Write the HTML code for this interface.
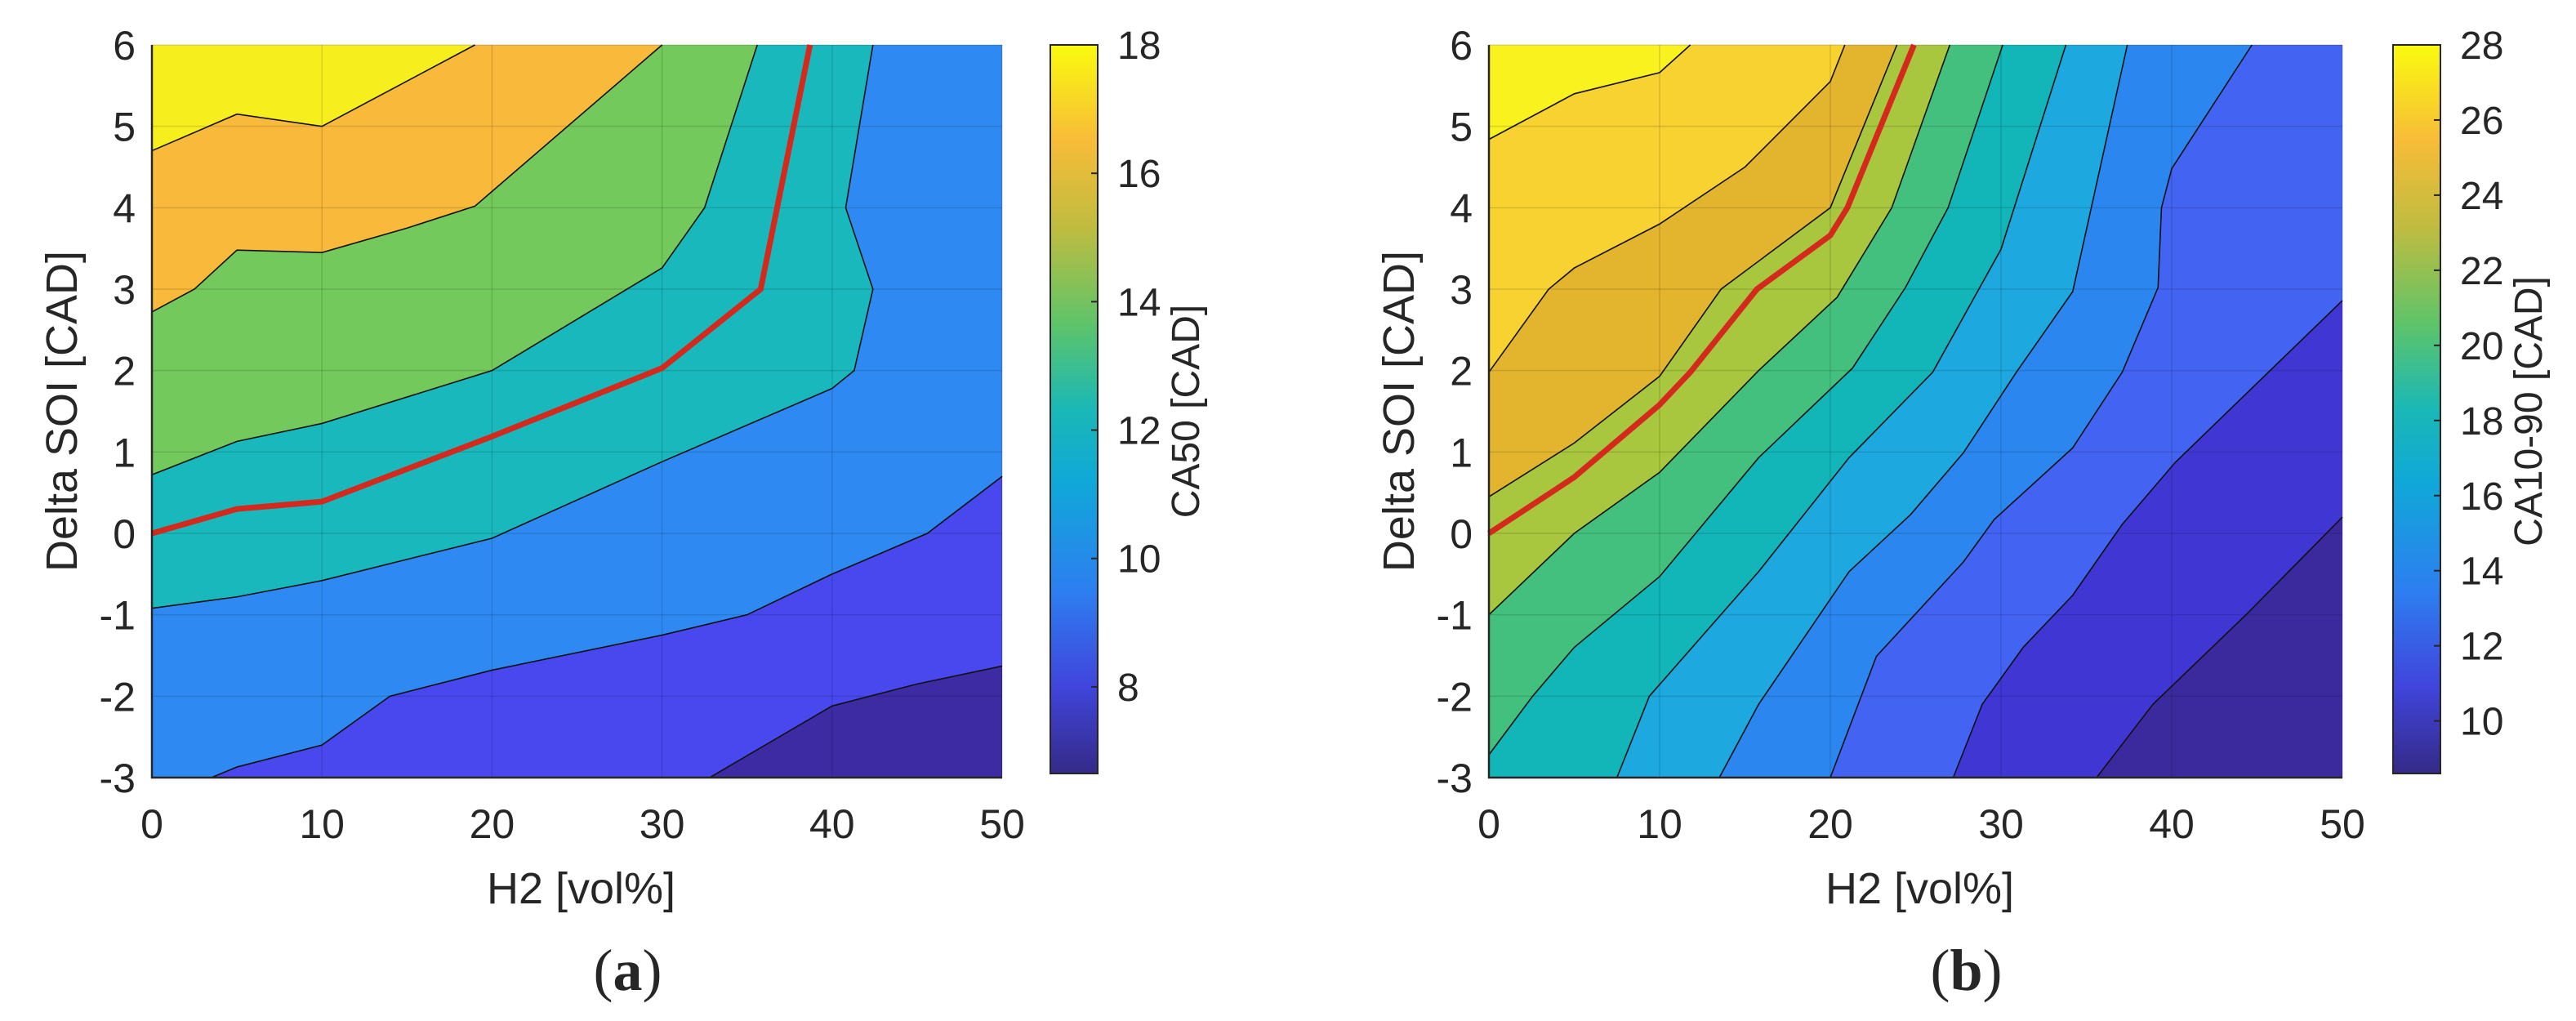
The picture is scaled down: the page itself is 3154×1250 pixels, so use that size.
<!DOCTYPE html>
<html><head><meta charset="utf-8">
<style>
html,body{margin:0;padding:0;background:#fff;}
svg{display:block;}
text{font-family:"Liberation Sans",Arial,sans-serif;fill:#262626;}
</style></head>
<body>
<svg id="fig" width="3154" height="1250" viewBox="0 0 3154 1250" xmlns="http://www.w3.org/2000/svg">
<defs>
<linearGradient id="parula" x1="0" y1="1" x2="0" y2="0">
<stop offset="0" stop-color="#352A87"/><stop offset="0.12" stop-color="#4045dc"/>
<stop offset="0.25" stop-color="#2d7ef0"/><stop offset="0.4" stop-color="#10a8d8"/>
<stop offset="0.5" stop-color="#1ab8b6"/><stop offset="0.62" stop-color="#60c468"/>
<stop offset="0.75" stop-color="#c0bc40"/><stop offset="0.87" stop-color="#f8bc38"/>
<stop offset="1" stop-color="#F9FB0E"/>
</linearGradient>
</defs>
</svg>
<script>
// ---------- shared axis data ----------
const xTicks = [0, 10, 20, 30, 40, 50];
const yTicks = [-3, -2, -1, 0, 1, 2, 3, 4, 5, 6];

// ---------- panel (a): CA50 ----------
const aColors = ["#3c2ba3", "#4848ee", "#2e8af2", "#19b8bd", "#73c95b", "#f9b93b", "#f7ee1e"];
const aC6 = [[32.8,-3],[40,-2.12],[45,-1.85],[50,-1.63]];
const aC5 = [[3.5,-3],[5,-2.87],[10,-2.6],[14,-2.0],[20,-1.68],[30,-1.25],[35,-1.0],[40,-0.5],[45.6,0.0],[50,0.7]];
const aC4 = [[0,-0.92],[5,-0.78],[10,-0.58],[20,-0.06],[30,0.88],[40,1.78],[41.3,2.0],[42.4,3.0],[40.8,4.0],[42.4,6]];
const aC3 = [[0,0.72],[5,1.13],[10,1.35],[20,2.0],[30,3.26],[32.5,4.0],[35.6,6]];
const aC2 = [[0,2.72],[2.5,3.0],[5,3.48],[10,3.45],[15,3.75],[19,4.02],[20,4.2],[30,6]];
const aC1 = [[0,4.7],[5,5.15],[10,5.0],[19,6]];
const aRed = [[0,0],[5,0.3],[10,0.39],[20,1.19],[30,2.03],[35.8,3.0],[38.7,6]];
const aCbarTicks = [8, 10, 12, 14, 16, 18];
const aCbarRange = [6.65, 18];

// ---------- panel (b): CA10-90 ----------
const bColors = ["#3b2a9e", "#4036d4", "#4363f3", "#2b87ef", "#1da8e0", "#12b5b8", "#43c07e", "#a8c63e", "#e3b42e", "#f8d231", "#f9f21f"];
const bC10 = [[35.6,-3],[38.9,-2.1],[44.4,-0.99],[50,0.2]];
const bC9 = [[27.2,-3],[28.9,-2.1],[31.3,-1.4],[34.2,-0.76],[37.1,0.11],[40.2,0.87],[50,2.86]];
const bC8 = [[20,-3],[22.7,-1.51],[27.8,-0.35],[29.6,0.17],[34.2,1.05],[37.1,1.98],[39.2,3.02],[39.4,4.0],[40,4.48],[44.7,6]];
const bC7 = [[13.5,-3],[15.8,-2.1],[21.1,-0.47],[24.7,0.23],[27.8,0.99],[30.9,1.98],[34.2,2.97],[37.4,6]];
const bC6 = [[7.5,-3],[9.4,-2.0],[15.8,-0.47],[21.1,0.93],[26,1.98],[30,3.49],[33.8,6]];
const bC5 = [[0,-2.72],[2.56,-2.0],[5,-1.4],[10,-0.53],[15.8,0.93],[21.3,2.03],[24.4,3.02],[26.9,4.0],[30.1,6]];
const bC4 = [[0,-1.0],[5,0.0],[10,0.75],[15.8,2.0],[20.4,2.9],[23.6,4.0],[27,6]];
const bC3 = [[0,0.45],[5,1.11],[10,1.93],[13.6,3.0],[20,4.0],[23.9,6]];
const bC2 = [[0,1.98],[3.5,3.0],[5,3.26],[10,3.8],[15,4.5],[20,5.55],[20.85,6]];
const bC1 = [[0,4.84],[5,5.4],[10,5.66],[11.8,6]];
const bRed = [[0,0],[5,0.69],[10,1.58],[11.8,1.98],[15.7,3.0],[20,3.66],[21,4.0],[24.9,6]];
const bCbarTicks = [10, 12, 14, 16, 18, 20, 22, 24, 26, 28];
const bCbarRange = [8.6, 28];

const NS = "http://www.w3.org/2000/svg";
const svg = document.getElementById("fig");
function mk(tag, attrs, parent) {
  const e = document.createElementNS(NS, tag);
  for (const k in attrs) e.setAttribute(k, attrs[k]);
  (parent || svg).appendChild(e);
  return e;
}

function panel(P) {
  const g = mk("g", {});
  
  
  const X = v => P.left + (v - 0) / 50 * (P.right - P.left);
  const Y = v => P.bottom - (v + 3) / 9 * (P.bottom - P.top);
  const base = mk("rect", {x: P.left, y: P.top, width: P.right - P.left, height: P.bottom - P.top, fill: P.colors[0]}, g);
  
  
  P.contours.forEach((c, i) => {
    const pts = c.slice();
    const last = pts[pts.length - 1], first = pts[0];
    if (last[0] >= 50 && last[1] < 6) pts.push([50, 6]);
    pts.push([0, 6]);
    if (first[1] <= -3 && first[0] > 0) pts.push([0, -3]);
    const poly = mk("polygon", {points: pts.map(p => X(p[0]) + "," + Y(p[1])).join(" "), fill: P.colors[i + 1]}, g);
    
    
  });
  xTicks.forEach(t => {
    const l = mk("line", {x1: X(t), x2: X(t), y1: P.top, y2: P.bottom, stroke: "#000", "stroke-opacity": 0.13, "stroke-width": 1.5}, g);
    
    
  });
  yTicks.forEach(t => {
    const l = mk("line", {x1: P.left, x2: P.right, y1: Y(t), y2: Y(t), stroke: "#000", "stroke-opacity": 0.13, "stroke-width": 1.5}, g);
    
    
  });
  P.contours.forEach(c => {
    const pl = mk("polyline", {points: c.map(p => X(p[0]) + "," + Y(p[1])).join(" "), fill: "none", stroke: "#111", "stroke-width": 1.6}, g);
    
    
  });
  const red = mk("polyline", {points: P.red.map(p => X(p[0]) + "," + Y(p[1])).join(" "), fill: "none", stroke: "#d42a1e", "stroke-width": 7, "stroke-linejoin": "round"}, g);
  
  
  const box = mk("path", {d: `M${P.left},${P.top} V${P.bottom} H${P.right}`, fill: "none", stroke: "#262626", "stroke-width": 2.5}, g);
  
  
  xTicks.forEach(t => {
    const tx = mk("text", {x: X(t), y: P.bottom + 74, "font-size": 50, "text-anchor": "middle"}, g);
    tx.textContent = t;
    
    
  });
  yTicks.forEach(t => {
    const tx = mk("text", {x: P.left - 20, y: Y(t) + 18, "font-size": 50, "text-anchor": "end"}, g);
    tx.textContent = t;
    
    
  });
  const xt = mk("text", {x: (P.left + P.right) / 2 + 5, y: P.bottom + 154, "font-size": 54, "text-anchor": "middle"}, g);
  xt.textContent = "H2 [vol%]";
  
  
  const ycx = P.left - 92, ycy = (P.top + P.bottom) / 2;
  const yt = mk("text", {x: ycx, y: ycy, "font-size": 54, "text-anchor": "middle", transform: `rotate(-90 ${ycx} ${ycy})`}, g);
  yt.textContent = "Delta SOI [CAD]";
  
  
  const cb = mk("rect", {x: P.cbL, y: P.top, width: 58, height: P.bottom - 5 - P.top, fill: "url(#parula)", stroke: "#262626", "stroke-width": 2}, g);
  
  
  const CY = v => (P.bottom - 5) - (v - P.cr[0]) / (P.cr[1] - P.cr[0]) * (P.bottom - 5 - P.top);
  P.cticks.forEach(t => {
    const tk = mk("line", {x1: P.cbL + 50, x2: P.cbL + 58, y1: CY(t), y2: CY(t), stroke: "#262626", "stroke-width": 2}, g);
    
    
    const tx = mk("text", {x: P.cbL + 82, y: CY(t) + 17, "font-size": 48}, g);
    tx.textContent = t;
    
    
  });
  const lcx = P.cbL + 182, lcy = (P.top + P.bottom) / 2;
  const cl = mk("text", {x: lcx, y: lcy, "font-size": 48, "text-anchor": "middle", transform: `rotate(-90 ${lcx} ${lcy})`}, g);
  cl.textContent = P.clabel;
  
  
  const cap = mk("text", {x: (P.left + P.right) / 2 + 62, y: 1212, "font-size": 72, "text-anchor": "middle", style: 'font-family:"Liberation Serif",serif'}, g);
  cap.innerHTML = '(<tspan font-weight="bold">' + P.letter + '</tspan>)';
  
  
}

panel({name: "panel-a-ca50", left: 186, right: 1227, top: 55, bottom: 952, cbL: 1286,
  colors: aColors, contours: [aC6, aC5, aC4, aC3, aC2, aC1], red: aRed,
  cticks: aCbarTicks, cr: aCbarRange, clabel: "CA50 [CAD]", letter: "a"});
panel({name: "panel-b-ca10-90", left: 1823, right: 2868, top: 55, bottom: 952, cbL: 2930,
  colors: bColors, contours: [bC10, bC9, bC8, bC7, bC6, bC5, bC4, bC3, bC2, bC1], red: bRed,
  cticks: bCbarTicks, cr: bCbarRange, clabel: "CA10-90 [CAD]", letter: "b"});
</script>
</body></html>
